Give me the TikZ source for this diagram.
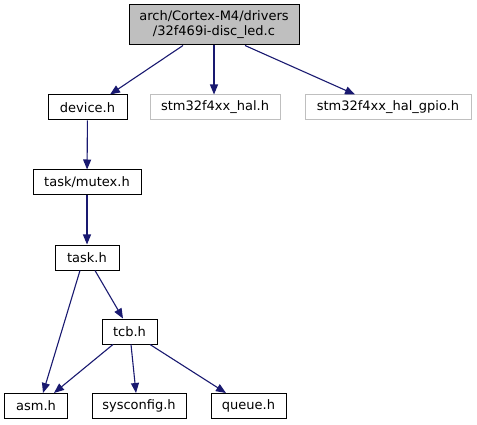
\documentclass[tikz,border=0pt]{standalone}
\usepackage{fontspec}
\setmainfont{DejaVu Sans}
\usetikzlibrary{arrows.meta}
\definecolor{edgeblue}{HTML}{191970}
\definecolor{boxgray}{HTML}{BFBFBF}
\tikzset{
  file/.style={draw=black, fill=white, line width=1pt, minimum height=25pt, inner sep=0pt,
    font=\fontsize{13}{15}\selectfont},
  extfile/.style={file, draw=boxgray},
  inc/.style={draw=edgeblue, -{Triangle[length=10pt,width=8pt]}, line width=1.1pt}
}
\begin{document}
\begin{tikzpicture}[x=1pt,y=-1pt]
\useasboundingbox (0,0) rectangle (477,425);
% files
\node[file, fill=boxgray, minimum width=170pt, minimum height=40pt, align=center] (led) at (214,25) {arch/Cortex-M4/drivers\\/32f469i-disc\_led.c};
\node[file, minimum width=79pt] (device) at (87.5,107.5) {device.h};
\node[extfile, minimum width=130pt] (hal) at (215,107.5) {stm32f4xx\_hal.h};
\node[extfile, minimum width=166pt] (gpio) at (388,107.5) {stm32f4xx\_hal\_gpio.h};
\node[file, minimum width=108pt] (mutex) at (87,182.5) {task/mutex.h};
\node[file, minimum width=64pt] (task) at (87,257.5) {task.h};
\node[file, minimum width=55pt] (tcb) at (129.5,331.5) {tcb.h};
\node[file, minimum width=63pt] (asm) at (36,406) {asm.h};
\node[file, minimum width=94pt] (sysconfig) at (139,406) {sysconfig.h};
\node[file, minimum width=75pt] (queue) at (248.5,406) {queue.h};
% includes
\draw[inc] (led.south -| 183,0) -- (device.north -| 110,0);
\draw[inc] (led.south -| 214,0) -- (hal.north -| 214,0);
\draw[inc] (led.south -| 245,0) -- (gpio.north -| 355,0);
\draw[inc] (device) -- (mutex);
\draw[inc] (mutex) -- (task);
\draw[inc] (task.south -| 80,0) -- (asm.north -| 43,0);
\draw[inc] (task.south -| 95,0) -- (tcb.north -| 123,0);
\draw[inc] (tcb.south -| 113,0) -- (asm.north -| 54,0);
\draw[inc] (tcb.south -| 131,0) -- (sysconfig.north -| 136,0);
\draw[inc] (tcb.south -| 150,0) -- (queue.north -| 226,0);
\end{tikzpicture}
\end{document}
